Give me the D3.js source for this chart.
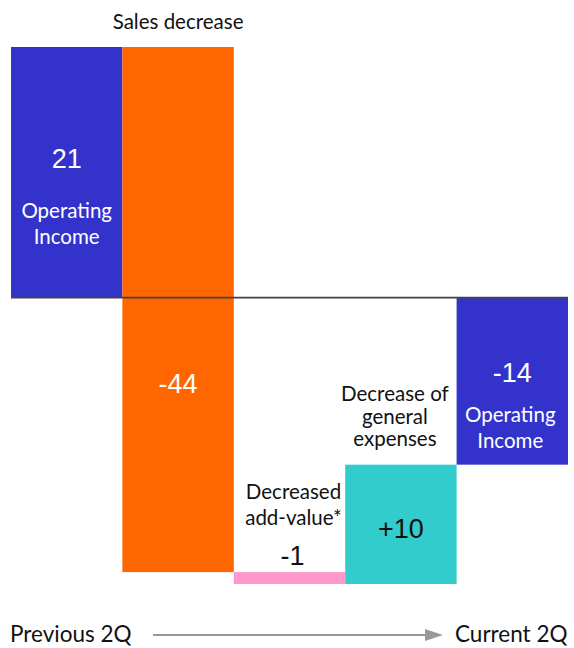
<!DOCTYPE html>
<meta charset="utf-8">
<script src="https://d3js.org/d3.v7.min.js"></script>
<style>
  body { margin: 0; background: #fff; }
</style>
<svg id="chart"></svg>
<script>

// waterfall steps, in order
let steps = ["prev", "sales", "addvalue", "expenses", "curr"];
let stepKinds = ["total", "delta", "delta", "delta", "total"];
let stepValues = [21, -44, -1, 10, -14];
let valueLabels = ["21", "-44", "-1", "+10", "-14"];
let stepColors = ["#3333cc", "#ff6600", "#ff99cc", "#33cccc", "#3333cc"];

let width = 574, height = 648;

let svg = d3.select("#chart")
    .attr("width", width)
    .attr("height", height);

// running totals -> bar start/end
let bars = [];
let run = 0;
steps.forEach(function(s, i) {
  let start, end;
  if (stepKinds[i] == "total") { start = 0; end = stepValues[i]; run = end; }
  else { start = run; end = run + stepValues[i]; run = end; }
  bars.push({ key: s, start: start, end: end, color: stepColors[i], label: valueLabels[i] });
});

let x = d3.scaleBand().domain(steps).range([11, 568]).padding(0);
let y = d3.scaleLinear().domain([-24, 21]).range([584, 47]);

svg.append("g")
  .selectAll("rect")
  .data(bars)
  .enter()
  .append("rect")
    .attr("x", d => x(d.key))
    .attr("width", x.bandwidth())
    .attr("y", d => y(Math.max(d.start, d.end)))
    .attr("height", d => Math.abs(y(d.start) - y(d.end)))
    .attr("fill", d => d.color);

// zero line
svg.append("line")
  .attr("x1", 11).attr("x2", 568)
  .attr("y1", y(0)).attr("y2", y(0))
  .attr("stroke", "#444").attr("stroke-width", 1.6);

let cx = k => x(k) + x.bandwidth() / 2;
let numFont = "'Liberation Sans', Arial, sans-serif";
let txtFont = "Lato, 'Open Sans', sans-serif";

// value labels
let numPos = { prev: 168, sales: 393, addvalue: 565, expenses: 538, curr: 382 };
let numShift = { prev: 0, sales: 0, addvalue: 3, expenses: 0, curr: 0 };
let numColor = { prev: "#fff", sales: "#fff", addvalue: "#111", expenses: "#111", curr: "#fff" };
svg.append("g")
  .selectAll("text")
  .data(bars)
  .enter()
  .append("text")
    .attr("x", d => cx(d.key) + numShift[d.key])
    .attr("y", d => numPos[d.key])
    .attr("text-anchor", "middle")
    .style("font-family", numFont)
    .style("font-size", "27px")
    .attr("fill", d => numColor[d.key])
    .text(d => d.label);

// category labels
let captions = [
  { key: "prev", lines: ["Operating", "Income"], y: 218, color: "#fff" },
  { key: "sales", lines: ["Sales decrease"], y: 29, color: "#111" },
  { key: "addvalue", lines: ["Decreased", "add-value*"], y: 499, color: "#111" },
  { key: "expenses", lines: ["Decrease of", "general", "expenses"], y: 401, color: "#111" },
  { key: "curr", lines: ["Operating", "Income"], y: 422, color: "#fff" }
];
let lineGap = { prev: 26, sales: 0, addvalue: 26, expenses: 22.5, curr: 26 };
let xShift = { prev: 0, sales: 0, addvalue: 4, expenses: -6, curr: -2 };

captions.forEach(function(c) {
  c.lines.forEach(function(t, j) {
    svg.append("text")
      .attr("x", cx(c.key) + xShift[c.key])
      .attr("y", c.y + j * lineGap[c.key])
      .attr("text-anchor", "middle")
      .style("font-family", txtFont)
      .style("font-size", "20.5px")
      .attr("fill", c.color)
      .text(t);
  });
});

// period axis at the bottom
svg.append("text")
  .attr("x", 10).attr("y", 642)
  .style("font-family", txtFont).style("font-size", "22.5px")
  .attr("fill", "#111")
  .text("Previous 2Q");
svg.append("text")
  .attr("x", 455).attr("y", 642)
  .style("font-family", txtFont).style("font-size", "22.5px")
  .attr("fill", "#111")
  .text("Current 2Q");

svg.append("line")
  .attr("x1", 153).attr("x2", 427)
  .attr("y1", 635).attr("y2", 635)
  .attr("stroke", "#999").attr("stroke-width", 2);
svg.append("path")
  .attr("d", "M425,629 L443,635 L425,641 Z")
  .attr("fill", "#999");

</script>
